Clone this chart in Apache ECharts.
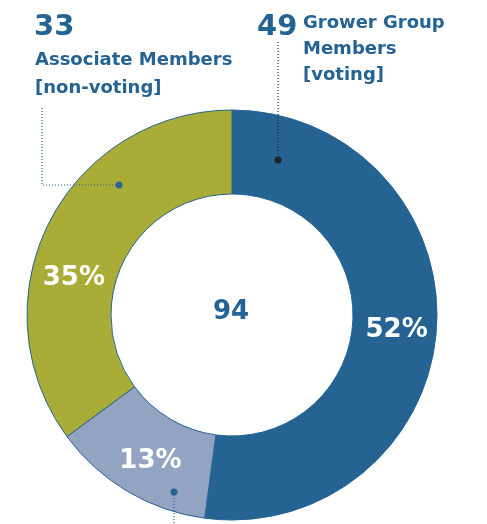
<!DOCTYPE html>
<html>
<head>
<meta charset="utf-8">
<script src="https://cdn.jsdelivr.net/npm/echarts@6/dist/echarts.min.js"></script>
<style>
* { margin: 0; padding: 0; }
#main { width: 487px; height: 524px; background: #fff; }
</style>
</head>
<body>
<div id="main"></div>
<script>
// member groups, clockwise from 12 o'clock
var categories = ["Grower Group Members [voting]", "Other Members", "Associate Members [non-voting]"];
var memberCounts = [49, 12, 33];
var percentLabels = ["52%", "13%", "35%"];
var sliceColors = ["#256393", "#93a3c2", "#a9ad37"];
// small nudges so the percent labels sit where the original has them
var labelOffsets = [[-1, 4], [3, 3], [-10, 38]];

var total = memberCounts.reduce(function (a, b) { return a + b; }, 0);
var blue = "#256393";
var font = "DejaVu Sans";

var chart = echarts.init(document.getElementById("main"));

var pieData = memberCounts.map(function (v, i) {
  return {
    name: categories[i],
    value: v,
    itemStyle: { color: sliceColors[i] },
    label: { offset: labelOffsets[i] }
  };
});

chart.setOption({
  animation: false,
  series: [{
    type: "pie",
    center: [232, 315],
    radius: [121, 205],
    startAngle: 90,
    clockwise: true,
    data: pieData,
    itemStyle: { borderColor: blue, borderWidth: 1 },
    label: {
      show: true,
      position: "inside",
      color: "#fff",
      fontFamily: font,
      fontWeight: "bold",
      fontSize: 26,
      formatter: function (p) { return percentLabels[p.dataIndex]; }
    },
    labelLine: { show: false },
    emphasis: { disabled: true }
  }],
  graphic: {
    elements: [
      // centre total
      { type: "text", z: 100, x: 231, y: 312, style: { text: String(total), fill: blue, font: "bold 26px " + font, textAlign: "center", textVerticalAlign: "middle" } },
      // associate annotation
      { type: "text", z: 100, x: 34, y: 13, style: { text: String(memberCounts[2]), fill: blue, font: "bold 29px " + font } },
      { type: "text", z: 100, x: 35, y: 46, style: { text: "Associate Members\n[non-voting]", fill: blue, font: "bold 18px " + font, lineHeight: 28 } },
      { type: "polyline", z: 100, shape: { points: [[42, 108], [42, 185], [119, 185]] }, style: { stroke: blue, lineWidth: 1.2, lineDash: [1, 2], fill: null } },
      { type: "circle", z: 100, shape: { cx: 119, cy: 185, r: 3.5 }, style: { fill: blue } },
      // grower annotation
      { type: "text", z: 100, x: 257, y: 13, style: { text: String(memberCounts[0]), fill: blue, font: "bold 29px " + font } },
      { type: "text", z: 100, x: 303, y: 10, style: { text: "Grower Group\nMembers\n[voting]", fill: blue, font: "bold 18px " + font, lineHeight: 26 } },
      { type: "polyline", z: 100, shape: { points: [[278, 42], [278, 160]] }, style: { stroke: "#222", lineWidth: 1.2, lineDash: [1, 2], fill: null } },
      { type: "circle", z: 100, shape: { cx: 278, cy: 160, r: 3.5 }, style: { fill: "#222" } },
      // small slice pointer
      { type: "polyline", z: 100, shape: { points: [[174, 492], [174, 524]] }, style: { stroke: blue, lineWidth: 1.2, lineDash: [1, 2], fill: null } },
      { type: "circle", z: 100, shape: { cx: 174, cy: 492, r: 3.5 }, style: { fill: blue } }
    ]
  }
});
</script>
</body>
</html>
